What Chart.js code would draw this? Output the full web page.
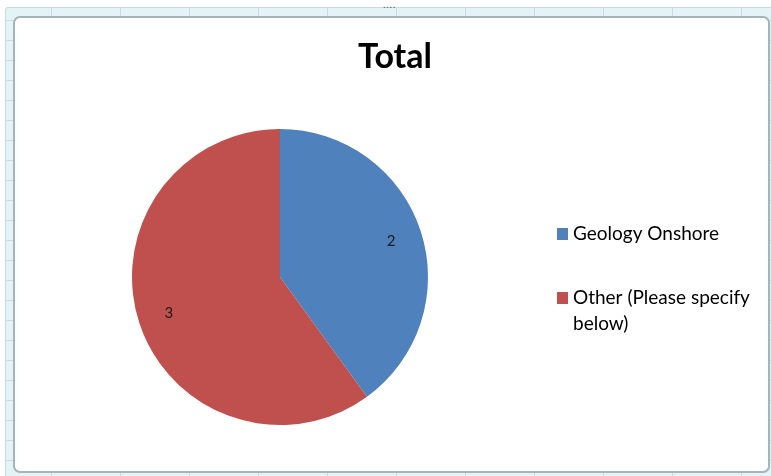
<!DOCTYPE html>
<html><head><meta charset="utf-8">
<script src="https://cdn.jsdelivr.net/npm/chart.js@4"></script>
<style>
html,body{margin:0;padding:0;width:771px;height:476px;overflow:hidden;background:#fff;}
#band{position:absolute;left:5px;top:7px;width:780px;height:480px;background:#e3f3f6;border:1px solid #c4dde4;border-radius:3px;
 background-image:linear-gradient(to right,#c6dce3 1px,transparent 1px),linear-gradient(to bottom,#c6dce3 1px,transparent 1px);
 background-size:69px 480px,780px 20px;background-position:45px 0,0 12px;}
#frame{position:absolute;left:13px;top:16px;width:753px;height:453px;background:#fff;border:2px solid #a5b4ba;border-radius:7px;}
#wrap{position:absolute;left:0;top:0;width:771px;height:476px;}
.dots{position:absolute;color:#556;font:bold 8px sans-serif;letter-spacing:1px;}
</style></head>
<body>
<div id="band"></div>
<div id="frame"></div>
<div class="dots" style="left:383px;top:3px;">∙∙∙∙</div>
<div id="wrap"><canvas id="c" width="771" height="476"></canvas></div>
<script>
const chartTitle = 'Total';
const categories = ['Geology Onshore', 'Other (Please specify below)'];
const values = [2, 3];
const colors = ['#4F81BD', '#C0504D'];

const FONT = 'Lato, "Liberation Sans", sans-serif';

const overlay = {
  id: 'overlay',
  afterDatasetsDraw(chart) {
    const ctx = chart.ctx;
    const meta = chart.getDatasetMeta(0);
    ctx.save();
    ctx.fillStyle = '#1a1a1a';
    ctx.font = '15px ' + FONT;
    ctx.textAlign = 'center';
    ctx.textBaseline = 'middle';
    meta.data.forEach((arc, i) => {
      const p = arc.getProps(['x', 'y', 'startAngle', 'endAngle', 'outerRadius'], true);
      const mid = (p.startAngle + p.endAngle) / 2;
      const r = p.outerRadius * 0.79;
      ctx.fillText(String(chart.data.datasets[0].data[i]), p.x + Math.cos(mid) * r, p.y + Math.sin(mid) * r);
    });
    ctx.restore();
  },
  afterDraw(chart) {
    const ctx = chart.ctx;
    ctx.save();
    ctx.fillStyle = '#000';
    ctx.font = 'bold 34px ' + FONT;
    ctx.textAlign = 'center';
    ctx.textBaseline = 'middle';
    ctx.fillText(chartTitle, 395, 57);
    ctx.font = '19px ' + FONT;
    ctx.textAlign = 'left';
    const maxW = 195;
    let y = 234;
    chart.data.labels.forEach((lab, i) => {
      const words = lab.split(' ');
      const lines = [];
      let cur = '';
      words.forEach(w => {
        const t = cur ? cur + ' ' + w : w;
        if (ctx.measureText(t).width > maxW && cur) { lines.push(cur); cur = w; } else cur = t;
      });
      lines.push(cur);
      ctx.fillStyle = chart.data.datasets[0].backgroundColor[i];
      ctx.fillRect(557, y - 6, 11, 12);
      ctx.fillStyle = '#000';
      lines.forEach((ln, k) => ctx.fillText(ln, 573, y + k * 26));
      y += 64;
    });
    ctx.restore();
  }
};

new Chart(document.getElementById('c'), {
  type: 'pie',
  data: {
    labels: categories,
    datasets: [{ data: values, backgroundColor: colors, borderWidth: 0, hoverOffset: 0 }]
  },
  options: {
    responsive: false,
    animation: false,
    layout: { padding: { left: 132, right: 343, top: 129, bottom: 51 } },
    plugins: { legend: { display: false }, title: { display: false }, tooltip: { enabled: false } }
  },
  plugins: [overlay]
});
</script>
</body></html>
